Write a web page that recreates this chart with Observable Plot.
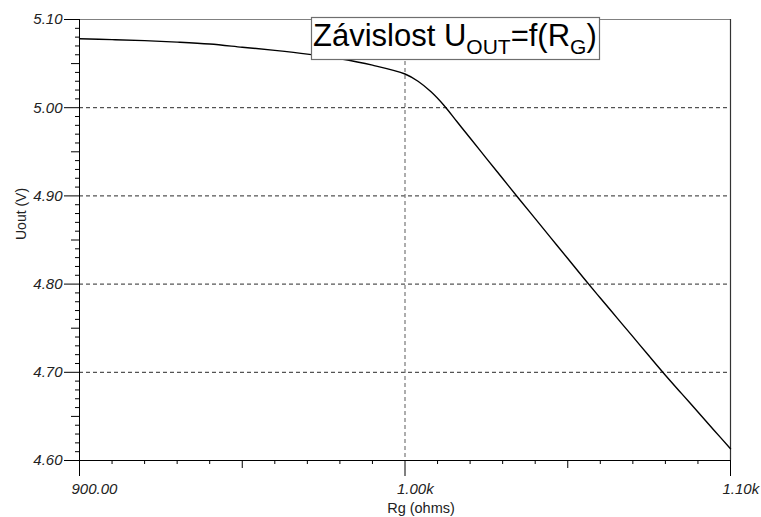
<!DOCTYPE html>
<html>
<head>
<meta charset="utf-8">
<script src="https://cdn.jsdelivr.net/npm/d3@7"></script>
<script src="https://cdn.jsdelivr.net/npm/@observablehq/plot@0.6"></script>
<style>
  html, body { margin: 0; padding: 0; background: #fff; overflow: hidden; }
  #chart { width: 761px; height: 517px; }
</style>
</head>
<body>
<div id="chart"></div>
<script>
// Rg sweep (ohms) and the simulated output voltage Uout (V)
const rg = [900, 910, 920, 930, 940, 950, 960, 970, 980, 990, 1000, 1004, 1008, 1012,
  1016, 1020, 1025, 1030, 1035, 1040, 1045, 1050, 1055, 1060, 1065, 1070, 1075, 1080,
  1085, 1090, 1095, 1100];
const uout = [5.0781, 5.0772, 5.0760, 5.0744, 5.0722, 5.0686, 5.0650, 5.0608, 5.0555,
  5.0482, 5.0382, 5.0300, 5.0180, 5.0025, 4.9840, 4.9656, 4.9426, 4.9197, 4.8968,
  4.8742, 4.8516, 4.8290, 4.8063, 4.7842, 4.7623, 4.7404, 4.7184, 4.6967, 4.6758,
  4.6550, 4.6341, 4.6133];

// Axis ticks
const xMajor = [900, 1000, 1100];
const xMajorLabels = ["900.00", "1.00k", "1.10k"];
const xMid = [950, 1050];
const xMinor = [910, 920, 930, 940, 960, 970, 980, 990, 1010, 1020, 1030, 1040, 1060, 1070, 1080, 1090];
const yMajor = [4.6, 4.7, 4.8, 4.9, 5.0, 5.1];
const yMajorLabels = ["4.60", "4.70", "4.80", "4.90", "5.00", "5.10"];
const yMid = [4.65, 4.75, 4.85, 4.95, 5.05];
const yMinor = d3.range(4.61, 5.1, 0.01).map(v => +v.toFixed(2))
  .filter(v => !yMajor.some(m => Math.abs(m - v) < 1e-6) && !yMid.some(m => Math.abs(m - v) < 1e-6));
const yGrid = [4.7, 4.8, 4.9, 5.0];
const xGrid = [1000];

const data = rg.map((r, i) => ({rg: r, u: uout[i]}));
const font = "'Liberation Sans', Arial, sans-serif";

// Boxed title drawn on top of the plot area
function titleBox() {
  const g = d3.create("svg:g");
  g.append("rect")
    .attr("x", 311.5).attr("y", 17.5).attr("width", 288).attr("height", 42)
    .attr("fill", "white").attr("stroke", "#6e6e6e").attr("stroke-width", 1.2);
  const t = g.append("text")
    .attr("x", 313).attr("y", 45.5).attr("text-anchor", "start")
    .attr("font-family", font).attr("font-size", 31).attr("fill", "black");
  t.append("tspan").text("Závislost U");
  t.append("tspan").attr("font-size", 21).attr("dy", 8).text("OUT");
  t.append("tspan").attr("dy", -8).text("=f(R");
  t.append("tspan").attr("font-size", 21).attr("dy", 8).text("G");
  t.append("tspan").attr("dy", -8).text(")");
  return g.node();
}

const noLabel = () => "";

const chart = Plot.plot({
  width: 761,
  height: 517,
  marginLeft: 79,
  marginRight: 31,
  marginTop: 19,
  marginBottom: 57,
  style: {fontFamily: font, background: "white", overflow: "visible"},
  x: {domain: [900, 1100], axis: null},
  y: {domain: [4.6, 5.1], axis: null},
  marks: [
    // dashed grid
    Plot.ruleY(yGrid, {stroke: "#2a2a2a", strokeDasharray: "4,3", strokeWidth: 1}),
    Plot.ruleX(xGrid, {stroke: "#777", strokeDasharray: "4,3", strokeWidth: 1.2}),
    // frame
    Plot.ruleY([5.1], {stroke: "#808080", strokeWidth: 1.2}),
    Plot.ruleX([1100], {stroke: "#333", strokeWidth: 1.2}),
    Plot.ruleX([900], {stroke: "black"}),
    Plot.ruleY([4.6], {stroke: "black"}),
    // y ticks
    Plot.axisY(yMinor, {tickSize: 4, tickFormat: noLabel, stroke: "black", label: null}),
    Plot.axisY(yMid, {tickSize: 8, tickFormat: noLabel, stroke: "black", label: null}),
    Plot.axisY(yMajor, {
      tickSize: 15, tickPadding: 2, stroke: "black",
      tickFormat: d => yMajorLabels[yMajor.indexOf(d)],
      fontSize: 15, fontStyle: "italic", fill: "#222", label: null
    }),
    // x ticks
    Plot.axisX(xMinor, {tickSize: 4, tickFormat: noLabel, stroke: "black", label: null}),
    Plot.axisX(xMid, {tickSize: 8, tickFormat: noLabel, stroke: "black", label: null}),
    Plot.axisX(xMajor, {tickSize: 16, tickFormat: noLabel, stroke: "black", label: null}),
    Plot.text(xMajor, {
      x: d => d, text: d => xMajorLabels[xMajor.indexOf(d)],
      frameAnchor: "bottom", textAnchor: "start", lineAnchor: "bottom",
      dx: -8, dy: 33, fontSize: 15, fontStyle: "italic", fill: "#222"
    }),
    // axis titles
    Plot.text(["Rg (ohms)"], {
      frameAnchor: "bottom", dx: 16, dy: 48, fontSize: 14.5, fill: "#222", lineAnchor: "middle"
    }),
    Plot.text(["Uout (V)"], {
      frameAnchor: "left", dx: -58, rotate: -90, fontSize: 14, fill: "#222", lineAnchor: "middle"
    }),
    // Uout = f(Rg)
    Plot.line(data, {x: "rg", y: "u", curve: "catmull-rom", stroke: "black", strokeWidth: 1.4}),
    titleBox
  ]
});

document.getElementById("chart").append(chart);
</script>
</body>
</html>
